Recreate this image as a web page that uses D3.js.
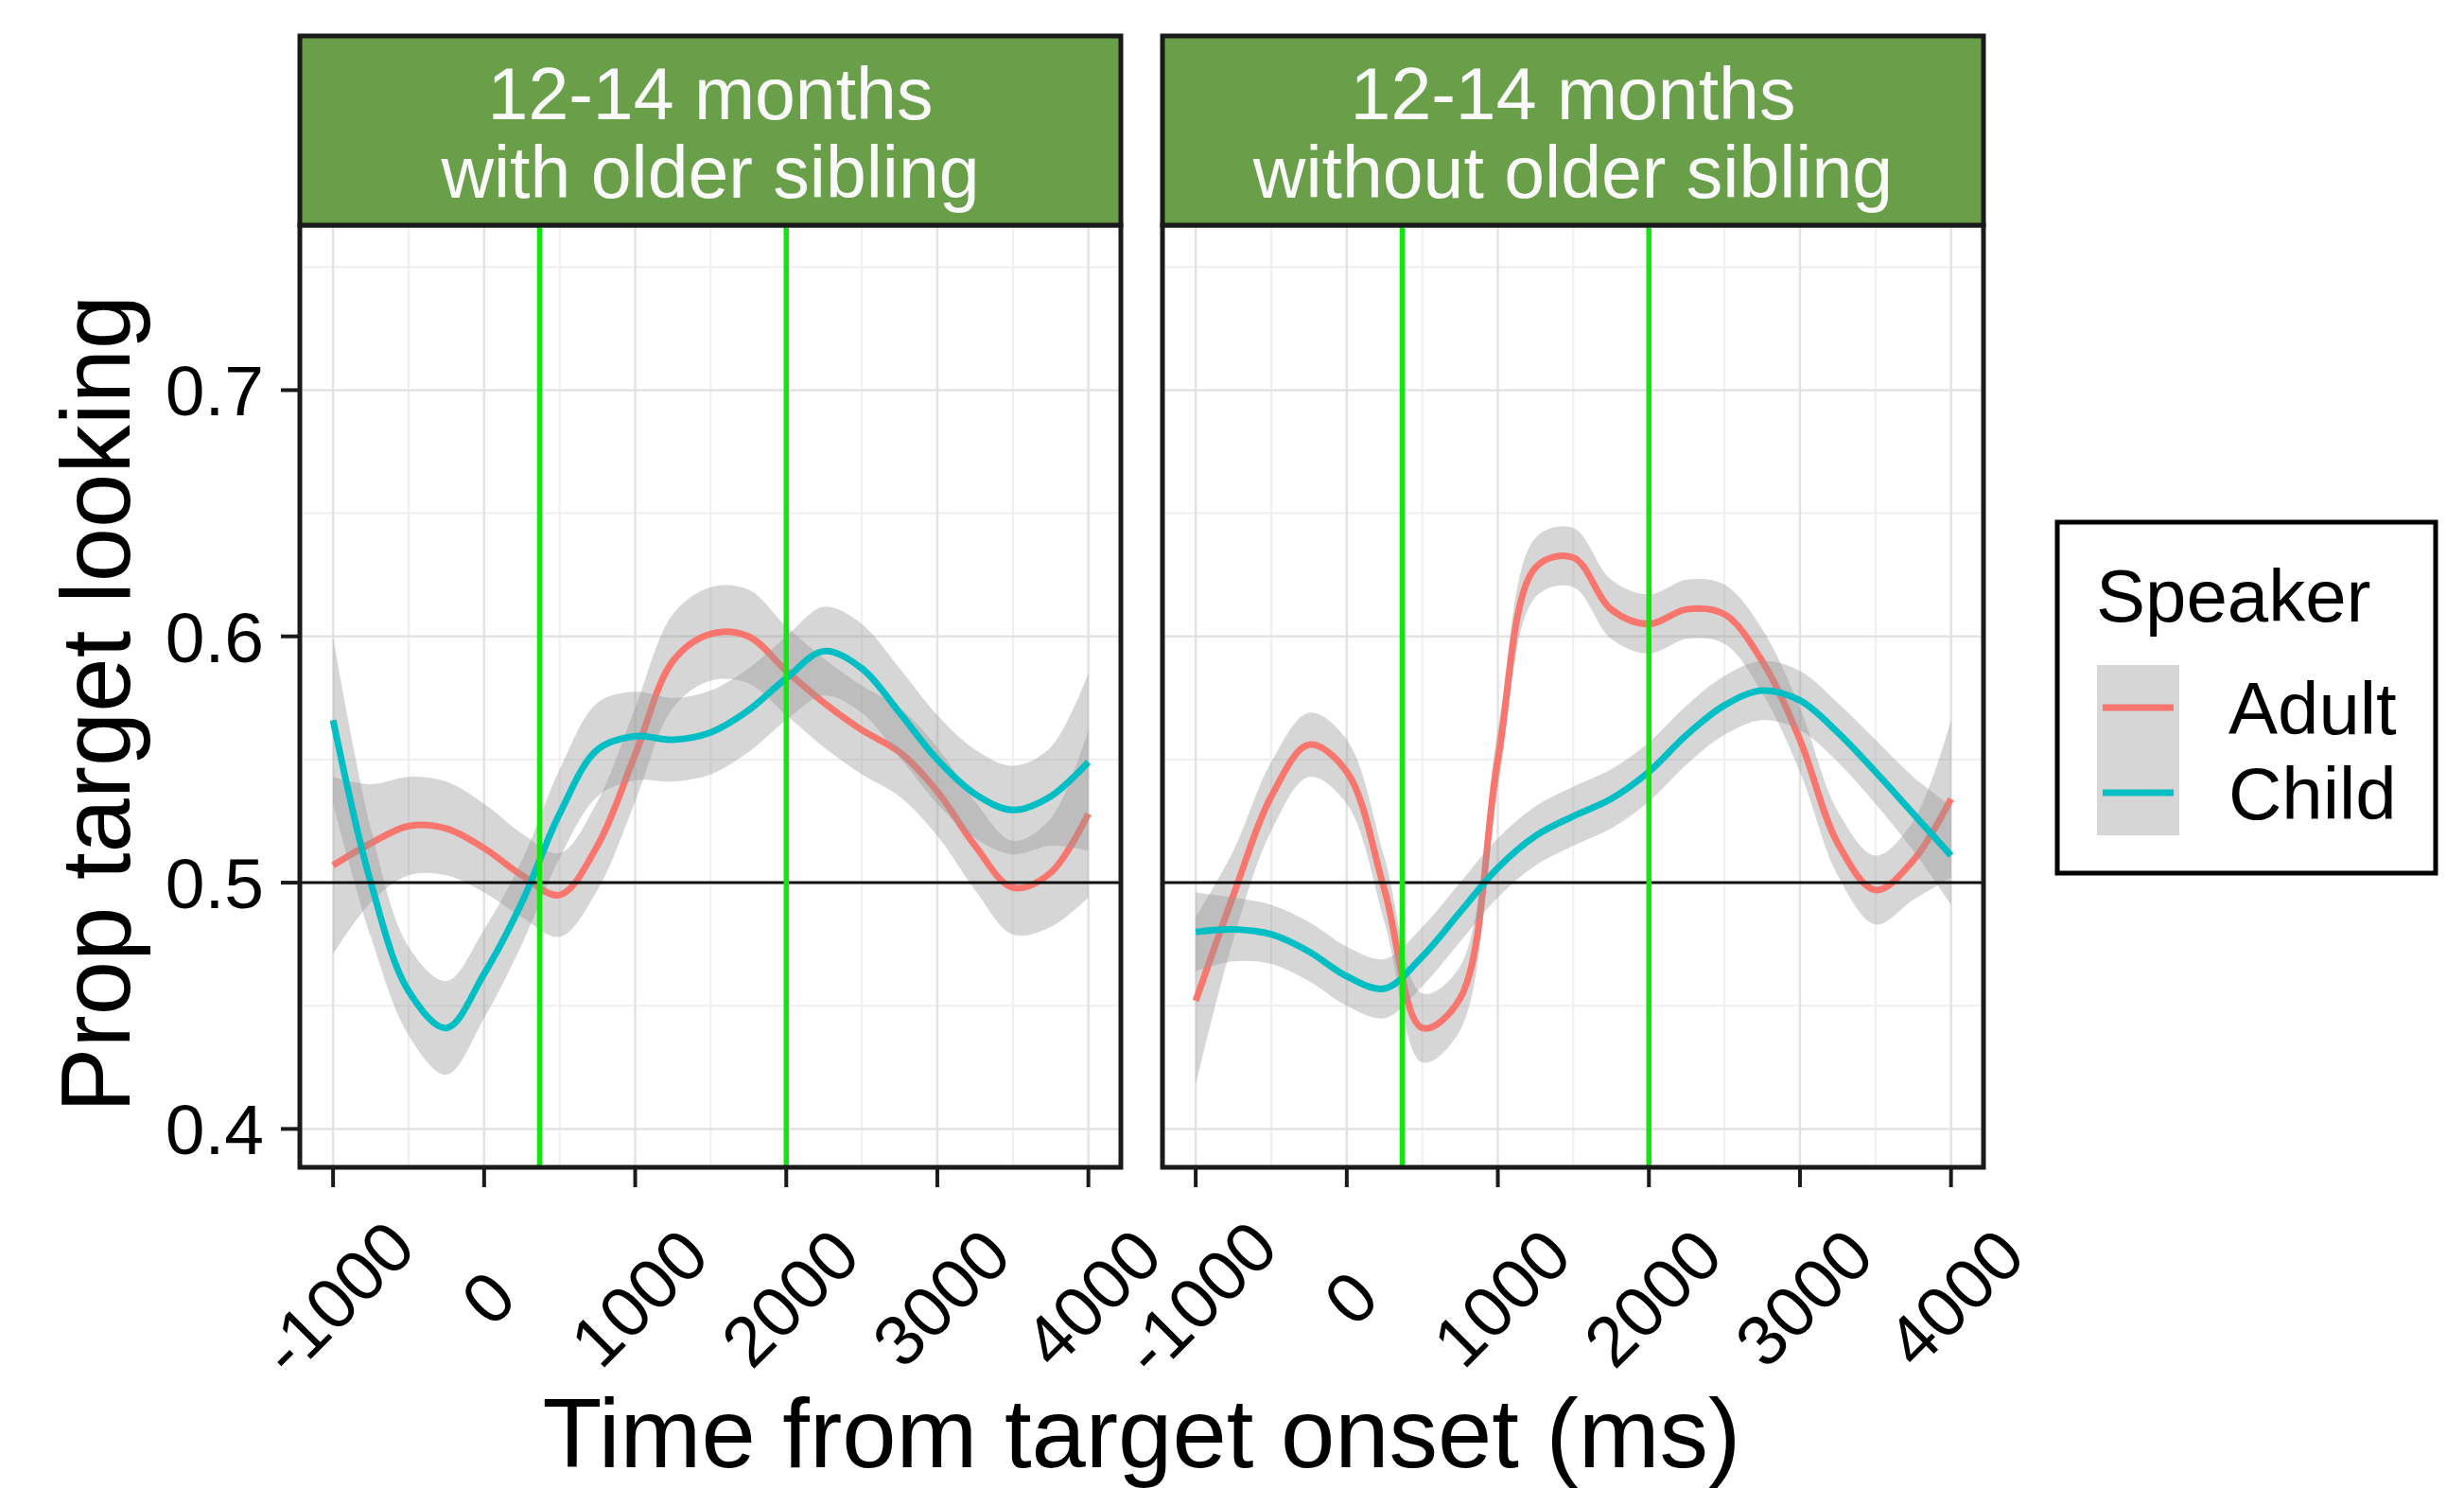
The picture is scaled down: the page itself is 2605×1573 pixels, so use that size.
<!DOCTYPE html>
<html>
<head>
<meta charset="utf-8">
<script src="https://cdn.jsdelivr.net/npm/d3@7"></script>
<style>
  html, body { margin: 0; padding: 0; background: #ffffff; }
  svg text { font-family: "Liberation Sans", Arial, Helvetica, sans-serif; }
</style>
</head>
<body>
<svg id="chart"></svg>
<script>
// chart data

var timePoints = [-1000, -750, -500, -250, 0, 250, 500, 750, 1000, 1250, 1500,
                  1750, 2000, 2250, 2500, 2750, 3000, 3250, 3500, 3750, 4000];
var timeTicks = [-1000, 0, 1000, 2000, 3000, 4000];
var timeMinor = [-500, 500, 1500, 2500, 3500];
var propTicks = [0.4, 0.5, 0.6, 0.7];
var propMinor = [0.45, 0.55, 0.65, 0.75];

var panelTitles = [["12-14 months", "with older sibling"],
                   ["12-14 months", "without older sibling"]];
var speakers = ["Adult", "Child"];

// with older sibling
var withAdult = [0.507, 0.516, 0.523, 0.522, 0.514, 0.503, 0.495, 0.515, 0.552, 0.590, 0.601,
                 0.600, 0.586, 0.573, 0.562, 0.553, 0.537, 0.515, 0.498, 0.504, 0.528];
var withAdultCi = [0.036, 0.024, 0.020, 0.019, 0.018, 0.017, 0.017, 0.018, 0.019, 0.019, 0.019,
                   0.019, 0.018, 0.018, 0.018, 0.018, 0.018, 0.018, 0.019, 0.022, 0.034];
var withChild = [0.566, 0.500, 0.456, 0.441, 0.463, 0.492, 0.528, 0.554, 0.5595, 0.558, 0.561,
                 0.570, 0.583, 0.594, 0.587, 0.569, 0.550, 0.536, 0.5295, 0.535, 0.549];
var withChildCi = [0.034, 0.022, 0.018, 0.019, 0.018, 0.017, 0.018, 0.019, 0.018, 0.017, 0.017,
                   0.017, 0.017, 0.018, 0.018, 0.018, 0.018, 0.018, 0.018, 0.020, 0.036];

// without older sibling
var withoutAdult = [0.452, 0.495, 0.535, 0.556, 0.545, 0.497, 0.441, 0.453, 0.550, 0.628, 0.632,
                    0.611, 0.605, 0.611, 0.609, 0.590, 0.558, 0.516, 0.497, 0.509, 0.534];
var withoutAdultCi = [0.034, 0.018, 0.014, 0.013, 0.013, 0.013, 0.014, 0.013, 0.012, 0.012, 0.012,
                      0.012, 0.012, 0.012, 0.012, 0.013, 0.013, 0.013, 0.014, 0.016, 0.032];
var withoutChild = [0.480, 0.481, 0.479, 0.472, 0.462, 0.457, 0.470, 0.488, 0.506, 0.519, 0.527,
                    0.534, 0.545, 0.560, 0.572, 0.578, 0.574, 0.561, 0.545, 0.528, 0.511];
var withoutChildCi = [0.016, 0.013, 0.012, 0.012, 0.012, 0.012, 0.012, 0.012, 0.012, 0.012, 0.012,
                      0.012, 0.012, 0.012, 0.012, 0.012, 0.012, 0.012, 0.013, 0.015, 0.020];

var windowLines = [367, 2000];
var refLine = 0.5;

// layout
var width = 2605, height = 1573;
var panelLeft = [317, 1229];
var panelWidth = 868;
var panelTop = 238, panelBottom = 1234;
var stripTop = 38;

var adultColor = "#F8766D";
var childColor = "#00BFC4";
var stripColor = "#6A9F4A";
var vlineColor = "#11E611";
var borderColor = "#1a1a1a";
var tickSize = 75;
var stripSize = 77;
var legendSize = 78;
var titleSize = 103;

var svg = d3.select("#chart")
    .attr("width", width)
    .attr("height", height);

var y = d3.scaleLinear()
    .domain([0.3844, 0.767])
    .range([panelBottom, panelTop]);

var panels = [
  { series: [withAdult, withChild], ci: [withAdultCi, withChildCi] },
  { series: [withoutAdult, withoutChild], ci: [withoutAdultCi, withoutChildCi] }
];
var colors = [adultColor, childColor];

panels.forEach(function(p, i) {
  var x = d3.scaleLinear()
      .domain([-1220, 4215])
      .range([panelLeft[i], panelLeft[i] + panelWidth]);
  var g = svg.append("g");

  g.append("clipPath").attr("id", "clip" + i)
    .append("rect")
      .attr("x", panelLeft[i]).attr("y", panelTop)
      .attr("width", panelWidth).attr("height", panelBottom - panelTop);

  // grid
  g.selectAll(".ym").data(propMinor).enter().append("line")
      .attr("x1", panelLeft[i]).attr("x2", panelLeft[i] + panelWidth)
      .attr("y1", y).attr("y2", y)
      .attr("stroke", "#EFEFEF").attr("stroke-width", 2);
  g.selectAll(".xm").data(timeMinor).enter().append("line")
      .attr("x1", x).attr("x2", x)
      .attr("y1", panelTop).attr("y2", panelBottom)
      .attr("stroke", "#EFEFEF").attr("stroke-width", 2);
  g.selectAll(".yg").data(propTicks).enter().append("line")
      .attr("x1", panelLeft[i]).attr("x2", panelLeft[i] + panelWidth)
      .attr("y1", y).attr("y2", y)
      .attr("stroke", "#E3E3E3").attr("stroke-width", 2.5);
  g.selectAll(".xg").data(timeTicks).enter().append("line")
      .attr("x1", x).attr("x2", x)
      .attr("y1", panelTop).attr("y2", panelBottom)
      .attr("stroke", "#E3E3E3").attr("stroke-width", 2.5);

  var plot = g.append("g").attr("clip-path", "url(#clip" + i + ")");

  p.series.forEach(function(vals, s) {
    var ci = p.ci[s];
    var rows = timePoints.map(function(t, k) {
      return { t: t, v: vals[k], lo: vals[k] - ci[k], hi: vals[k] + ci[k] };
    });
    var area = d3.area()
        .x(function(d) { return x(d.t); })
        .y0(function(d) { return y(d.lo); })
        .y1(function(d) { return y(d.hi); })
        .curve(d3.curveCatmullRom.alpha(0.5));
    var line = d3.line()
        .x(function(d) { return x(d.t); })
        .y(function(d) { return y(d.v); })
        .curve(d3.curveCatmullRom.alpha(0.5));
    plot.append("path")
        .attr("d", area(rows))
        .attr("fill", "#999999")
        .attr("fill-opacity", 0.4);
    plot.append("path")
        .attr("d", line(rows))
        .attr("fill", "none")
        .attr("stroke", colors[s])
        .attr("stroke-width", 7);
  });

  // reference lines
  plot.append("line")
      .attr("x1", panelLeft[i]).attr("x2", panelLeft[i] + panelWidth)
      .attr("y1", y(refLine)).attr("y2", y(refLine))
      .attr("stroke", "#111111").attr("stroke-width", 3);
  plot.selectAll(".vl").data(windowLines).enter().append("line")
      .attr("x1", x).attr("x2", x)
      .attr("y1", panelTop).attr("y2", panelBottom)
      .attr("stroke", vlineColor).attr("stroke-width", 5.5);

  // panel border
  g.append("rect")
      .attr("x", panelLeft[i]).attr("y", panelTop)
      .attr("width", panelWidth).attr("height", panelBottom - panelTop)
      .attr("fill", "none")
      .attr("stroke", borderColor).attr("stroke-width", 5);

  // strip
  g.append("rect")
      .attr("x", panelLeft[i]).attr("y", stripTop)
      .attr("width", panelWidth).attr("height", panelTop - stripTop)
      .attr("fill", stripColor)
      .attr("stroke", borderColor).attr("stroke-width", 5);
  g.selectAll(".st").data(panelTitles[i]).enter().append("text")
      .attr("x", panelLeft[i] + panelWidth / 2)
      .attr("y", function(d, k) { return 126 + k * 83; })
      .attr("text-anchor", "middle")
      .attr("font-size", stripSize)
      .attr("fill", "#FAFAFA")
      .text(function(d) { return d; });

  // x axis ticks + rotated labels
  g.selectAll(".xt").data(timeTicks).enter().append("line")
      .attr("x1", x).attr("x2", x)
      .attr("y1", panelBottom).attr("y2", panelBottom + 21)
      .attr("stroke", borderColor).attr("stroke-width", 4);
  g.selectAll(".xl").data(timeTicks).enter().append("text")
      .attr("transform", function(d) { return "translate(" + (x(d) + 4) + ",1372) rotate(-45)"; })
      .attr("text-anchor", "middle")
      .attr("dy", "0.35em")
      .attr("font-size", tickSize)
      .attr("fill", "#000")
      .text(function(d) { return d; });

  if (i === 0) {
    g.selectAll(".yt").data(propTicks).enter().append("line")
        .attr("x1", panelLeft[i] - 20).attr("x2", panelLeft[i])
        .attr("y1", y).attr("y2", y)
        .attr("stroke", borderColor).attr("stroke-width", 4);
    g.selectAll(".yl").data(propTicks).enter().append("text")
        .attr("x", panelLeft[i] - 38)
        .attr("y", y)
        .attr("dy", "0.36em")
        .attr("text-anchor", "end")
        .attr("font-size", tickSize)
        .attr("fill", "#000")
        .text(function(d) { return d.toFixed(1); });
  }
});

// axis titles
svg.append("text")
    .attr("x", (panelLeft[0] + panelLeft[1] + panelWidth) / 2)
    .attr("y", 1551)
    .attr("text-anchor", "middle")
    .attr("font-size", titleSize)
    .attr("fill", "#000")
    .text("Time from target onset (ms)");

svg.append("text")
    .attr("transform", "translate(137,744) rotate(-90)")
    .attr("text-anchor", "middle")
    .attr("font-size", titleSize)
    .attr("fill", "#000")
    .text("Prop target looking");

// legend
var legend = svg.append("g");
legend.append("rect")
    .attr("x", 2175).attr("y", 552)
    .attr("width", 400).attr("height", 371)
    .attr("fill", "#fff")
    .attr("stroke", "#000").attr("stroke-width", 5);
legend.append("text")
    .attr("x", 2216).attr("y", 657)
    .attr("font-size", legendSize)
    .attr("fill", "#000")
    .text("Speaker");
legend.append("rect")
    .attr("x", 2217).attr("y", 703)
    .attr("width", 87).attr("height", 180)
    .attr("fill", "#999999").attr("fill-opacity", 0.4);
legend.selectAll(".lk").data(speakers).enter().append("line")
    .attr("x1", 2223).attr("x2", 2298)
    .attr("y1", function(d, k) { return 748 + k * 90; })
    .attr("y2", function(d, k) { return 748 + k * 90; })
    .attr("stroke", function(d, k) { return colors[k]; })
    .attr("stroke-width", 7);
legend.selectAll(".lt").data(speakers).enter().append("text")
    .attr("x", 2356)
    .attr("y", function(d, k) { return 776 + k * 90; })
    .attr("font-size", legendSize)
    .attr("fill", "#000")
    .text(function(d) { return d; });
</script>
</body>
</html>
